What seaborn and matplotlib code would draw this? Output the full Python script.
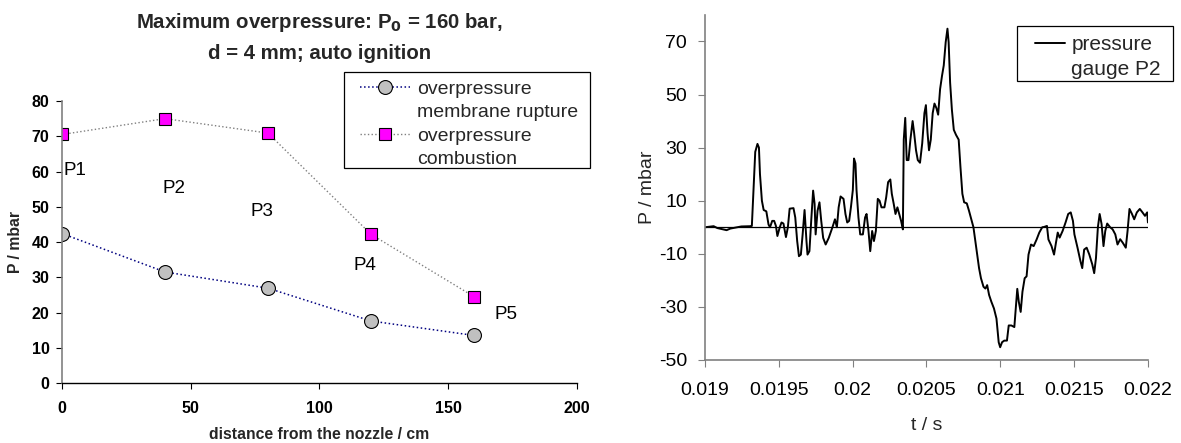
import numpy as np
import pandas as pd
import matplotlib
matplotlib.use("Agg")
import matplotlib.pyplot as plt
from matplotlib.patches import Rectangle
from matplotlib.lines import Line2D
import seaborn as sns

# --- left panel: maximum overpressure at the five gauges ---
distance_cm = [0, 40, 80, 120, 160]
p_membrane = [42.4, 31.5, 26.9, 17.6, 13.5]
p_combustion = [70.5, 75.0, 70.9, 42.2, 24.5]
gauge_names = ["P1", "P2", "P3", "P4", "P5"]
gauge_label_x = [0.7, 39, 73.3, 113.4, 168]
gauge_label_y = [60.2, 55.3, 48.7, 33.2, 19.5]

# --- right panel: pressure trace of gauge P2 ---
t_s = [
    0.019000, 0.019058, 0.019083, 0.019146, 0.019171, 0.019246, 0.019309, 0.019317,
    0.019329, 0.019340, 0.019355, 0.019365, 0.019372, 0.019385, 0.019397, 0.019415,
    0.019430, 0.019440, 0.019455, 0.019468, 0.019480, 0.019490, 0.019506, 0.019518,
    0.019531, 0.019548, 0.019561, 0.019573, 0.019599, 0.019611, 0.019624, 0.019636,
    0.019649, 0.019661, 0.019674, 0.019687, 0.019694, 0.019707, 0.019719, 0.019732,
    0.019742, 0.019749, 0.019762, 0.019775, 0.019787, 0.019800, 0.019817, 0.019838,
    0.019863, 0.019880, 0.019893, 0.019905, 0.019918, 0.019938, 0.019951, 0.019963,
    0.019976, 0.019988, 0.020001, 0.020009, 0.020019, 0.020026, 0.020039, 0.020051,
    0.020069, 0.020084, 0.020094, 0.020107, 0.020119, 0.020132, 0.020144, 0.020157,
    0.020170, 0.020182, 0.020195, 0.020215, 0.020227, 0.020240, 0.020255, 0.020265,
    0.020278, 0.020290, 0.020303, 0.020315, 0.020328, 0.020340, 0.020346, 0.020356,
    0.020366, 0.020378, 0.020391, 0.020406, 0.020416, 0.020429, 0.020441, 0.020456,
    0.020471, 0.020486, 0.020496, 0.020507, 0.020517, 0.020529, 0.020542, 0.020554,
    0.020567, 0.020579, 0.020592, 0.020605, 0.020617, 0.020630, 0.020642, 0.020650,
    0.020660, 0.020672, 0.020685, 0.020700, 0.020718, 0.020730, 0.020743, 0.020755,
    0.020773, 0.020788, 0.020806, 0.020818, 0.020831, 0.020843, 0.020856, 0.020869,
    0.020886, 0.020899, 0.020911, 0.020924, 0.020939, 0.020957, 0.020974, 0.020989,
    0.020999, 0.021012, 0.021027, 0.021045, 0.021057, 0.021075, 0.021095, 0.021108,
    0.021115, 0.021125, 0.021138, 0.021150, 0.021165, 0.021178, 0.021191, 0.021208,
    0.021226, 0.021246, 0.021264, 0.021284, 0.021296, 0.021316, 0.021326, 0.021347,
    0.021364, 0.021377, 0.021389, 0.021402, 0.021422, 0.021442, 0.021460, 0.021477,
    0.021492, 0.021502, 0.021523, 0.021543, 0.021555, 0.021568, 0.021585, 0.021603,
    0.021623, 0.021636, 0.021648, 0.021661, 0.021673, 0.021686, 0.021699, 0.021711,
    0.021724, 0.021744, 0.021761, 0.021779, 0.021794, 0.021812, 0.021829, 0.021850,
    0.021862, 0.021875, 0.021892, 0.021907, 0.021925, 0.021945, 0.021963, 0.021980,
    0.021995, 0.022000,
]
p_mbar = [
    0.0, 0.4, -0.3, -1.1, -0.5, 0.3, 0.4, 0.5,
    15.0, 28.4, 31.4, 30.0, 20.0, 10.0, 6.5, 6.0,
    1.0, 0.0, 2.4, 2.4, 0.5, -3.3, 0.0, 1.8,
    1.4, -3.7, 0.0, 7.0, 7.2, 3.7, -5.2, -10.9,
    -10.3, -2.7, 6.5, -5.2, -10.3, -9.0, 2.4, 13.8,
    8.8, -2.7, 6.2, 9.4, 2.4, -4.0, -6.5, -4.0,
    0.0, 3.0, 0.0, 7.5, 11.6, 10.7, 5.0, 1.8,
    2.4, 7.5, 14.0, 25.9, 24.0, 14.0, 3.7, -2.7,
    -2.7, 3.7, 5.0, -1.4, -9.0, -1.4, -5.2, -1.4,
    10.7, 10.0, 7.5, 7.5, 11.3, 17.0, 18.0, 12.6,
    8.8, 5.0, 7.5, 5.0, 2.4, -0.8, 33.0, 41.2,
    25.3, 25.3, 33.0, 40.0, 35.6, 29.0, 25.3, 24.3,
    31.6, 43.0, 46.0, 35.6, 29.0, 33.0, 43.0, 46.6,
    44.9, 42.4, 52.0, 57.0, 61.0, 69.7, 74.8, 69.7,
    54.5, 44.3, 36.7, 34.8, 33.0, 22.7, 12.6, 9.4,
    9.0, 6.2, 2.4, 0.0, -5.2, -10.3, -15.4, -19.2,
    -22.4, -23.1, -21.8, -25.5, -28.0, -30.6, -34.4, -43.3,
    -45.2, -43.3, -42.7, -42.7, -37.0, -37.0, -37.6, -28.0,
    -23.2, -28.0, -31.9, -24.3, -19.2, -18.5, -10.3, -6.5,
    -7.1, -4.6, -2.0, 0.0, 0.1, 0.5, -4.6, -7.1,
    -10.3, -5.8, -2.0, -3.9, -1.4, 1.8, 5.0, 5.6,
    2.4, -2.7, -7.7, -12.8, -15.4, -8.4, -7.7, -10.3,
    -14.0, -17.3, -11.6, 0.0, 5.0, 1.2, -7.1, -1.4,
    1.4, 0.0, -0.8, -2.7, -6.5, -4.5, -5.8, -7.7,
    -1.4, 6.9, 5.0, 3.0, 5.6, 6.9, 5.6, 4.3,
    5.6, 1.8,
]


def split_legend(ax, labels_per_entry, **kw):
    # one legend row per text line, handle only on the first line of each entry
    handles, _ = ax.get_legend_handles_labels()
    hs, ls = [], []
    for h, lines in zip(handles, labels_per_entry):
        for i, line in enumerate(lines):
            hs.append(h if i == 0 else Line2D([], [], linestyle='none'))
            ls.append(line)
    return ax.legend(hs, ls, **kw)


def make_figure():
    sns.set_theme(style="white")
    plt.rcParams['font.family'] = ['Liberation Sans', 'DejaVu Sans']
    plt.rcParams['axes.unicode_minus'] = False

    fig = plt.figure(figsize=(11.81, 4.43), dpi=100)
    ax1 = fig.add_axes([0.0525, 0.1354, 0.436, 0.6366])
    ax2 = fig.add_axes([0.597, 0.1874, 0.375, 0.779])

    df_left = pd.DataFrame({'d': distance_cm, 'memb': p_membrane, 'comb': p_combustion})
    df_right = pd.DataFrame({'t': t_s, 'p': p_mbar})

    # --- left panel ---
    sns.lineplot(data=df_left, x='d', y='memb', ax=ax1, sort=False, estimator=None,
                 color='#000080', linestyle=':', linewidth=1.1, marker='o',
                 markersize=10, markerfacecolor='#C0C0C0', markeredgecolor='black',
                 markeredgewidth=0.8, label='membrane')
    sns.lineplot(data=df_left, x='d', y='comb', ax=ax1, sort=False, estimator=None,
                 color='#808080', linestyle=':', linewidth=1.0, marker='s',
                 markersize=9, markerfacecolor='#FF00FF', markeredgecolor='black',
                 markeredgewidth=0.8, label='combustion')

    for name, lx, ly in zip(gauge_names, gauge_label_x, gauge_label_y):
        ax1.text(lx, ly, name, fontsize=13.5, ha='left', va='center', color='black')

    ax1.set_xlim(0, 200)
    ax1.set_ylim(0, 80)
    ax1.set_xticks(range(0, 201, 50))
    ax1.set_yticks(range(0, 81, 10))
    ax1.tick_params(axis='both', labelsize=11.5, length=4, width=0.8, colors='black',
                    direction='out', bottom=True, left=True)
    ax1.tick_params(axis='x', pad=9)
    ax1.tick_params(axis='y', pad=5)
    for lab in ax1.get_xticklabels() + ax1.get_yticklabels():
        lab.set_fontweight('bold')
    ax1.set_xlabel('distance from the nozzle / cm', fontsize=11.3, fontweight='bold', labelpad=8)
    ax1.set_ylabel('P / mbar', fontsize=11.3, fontweight='bold', labelpad=6)
    ax1.set_title('Maximum overpressure: P$_\\mathbf{0}$ = 160 bar,\nd = 4 mm; auto ignition',
                  fontsize=14.7, fontweight='bold', pad=30, linespacing=1.7)
    sns.despine(ax=ax1)
    ax1.spines['left'].set_color('#808080')
    ax1.spines['bottom'].set_color('black')
    ax1.spines['left'].set_linewidth(1.2)
    ax1.spines['bottom'].set_linewidth(1.0)

    split_legend(ax1, [['overpressure', 'membrane rupture'], ['overpressure', 'combustion']],
                 loc='upper left', bbox_to_anchor=(0.3048, 0.8194),
                 bbox_transform=fig.transFigure, borderaxespad=0, borderpad=0,
                 fontsize=14, frameon=False, handlelength=2.57,
                 handletextpad=0.35, labelspacing=0.3)
    fig.patches.append(Rectangle((0.2913, 0.6208), 0.2083, 0.2167, transform=fig.transFigure,
                                 fill=False, edgecolor='black', linewidth=0.9))

    # --- right panel ---
    ax2.axhline(0, color='black', linewidth=0.9)
    sns.lineplot(data=df_right, x='t', y='p', ax=ax2, sort=False, estimator=None,
                 color='black', linewidth=1.4, label='pressure')
    ax2.set_xlim(0.019, 0.022)
    ax2.set_ylim(-50, 80)
    ax2.set_xticks([0.019, 0.0195, 0.020, 0.0205, 0.021, 0.0215, 0.022])
    ax2.set_xticklabels(['0.019', '0.0195', '0.02', '0.0205', '0.021', '0.0215', '0.022'])
    ax2.set_yticks(range(-50, 71, 20))
    ax2.tick_params(axis='both', labelsize=14, length=5, width=0.8, colors='#808080',
                    labelcolor='black', direction='out', bottom=True, left=True)
    ax2.tick_params(axis='x', pad=11)
    ax2.tick_params(axis='y', pad=8)
    ax2.set_xlabel('t / s', fontsize=14, labelpad=13)
    ax2.set_ylabel('P / mbar', fontsize=14, labelpad=2)
    sns.despine(ax=ax2)
    ax2.spines['left'].set_color('#808080')
    ax2.spines['bottom'].set_color('#808080')
    ax2.spines['left'].set_linewidth(1.2)
    ax2.spines['bottom'].set_linewidth(1.2)

    split_legend(ax2, [['pressure', 'gauge P2']],
                 loc='upper left', bbox_to_anchor=(0.8764, 0.9207),
                 bbox_transform=fig.transFigure, borderaxespad=0, borderpad=0,
                 fontsize=15, frameon=False, handlelength=1.44,
                 handletextpad=0.3, labelspacing=0.3)
    fig.patches.append(Rectangle((0.8611, 0.8172), 0.1321, 0.1242, transform=fig.transFigure,
                                 fill=False, edgecolor='black', linewidth=0.9))

    fig.savefig('out.png', dpi=100)


if __name__ == "__main__":
    make_figure()
